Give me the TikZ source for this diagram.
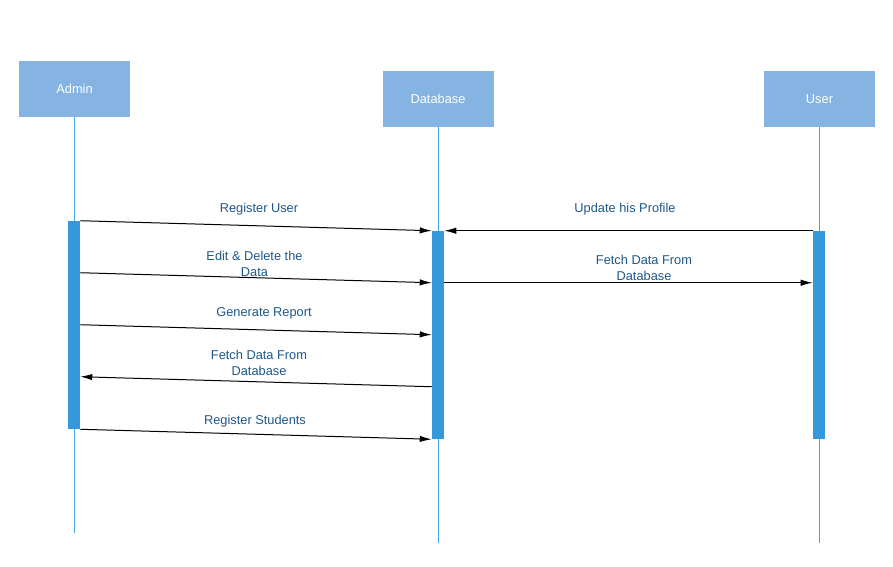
\documentclass[tikz,border=0pt]{standalone}
\usepackage{fontspec}
\setmainfont{Liberation Sans}
\usetikzlibrary{arrows.meta,calc}
\definecolor{headblue}{RGB}{133,179,226}
\definecolor{barblue}{RGB}{52,152,219}
\definecolor{lifeblue}{RGB}{70,160,225}
\definecolor{labelblue}{RGB}{30,88,138}
\begin{document}
\begin{tikzpicture}[font=\fontsize{9.6}{12}\selectfont,>={Latex[length=9pt,width=4.8pt]},x=0.75pt,y=-0.75pt]
    \tikzset{
        head/.style={
            fill=headblue,
            text=white,
            minimum width=83.25pt,
            minimum height=42pt,
            inner sep=0pt
        },
        bar/.style={
            fill=barblue,
            minimum width=9pt,
            minimum height=156pt,
            inner sep=0pt
        },
        life/.style={draw=lifeblue,line width=0.75pt},
        msg/.style={->,line width=0.75pt},
        msglabel/.style={text=labelblue,align=center,inner sep=1pt}
    }

    \fill[white] (0,0) rectangle (893,567);
    \useasboundingbox (0,0) rectangle (893,567);

    % lifeline heads
    \node[head] (admin) at (74.5,89) {Admin};
    \node[head] (db) at (438,99) {Database};
    \node[head] (user) at (819.5,99) {User};

    \coordinate (adminend) at (74.5,533);
    \coordinate (dbend) at (438,543);
    \coordinate (userend) at (819.5,543);
    \draw[life] (admin.south) -- (adminend);
    \draw[life] (db.south) -- (dbend);
    \draw[life] (user.south) -- (userend);

    % activation bars
    \node[bar] (adminbar) at (74,325) {};
    \node[bar] (dbbar) at (438,335) {};
    \node[bar] (userbar) at (819,335) {};

    % messages
    \draw[msg] (adminbar.north east) -- (dbbar.north west);
    \draw[msg] ($(adminbar.north east)+(0,52)$) -- ($(dbbar.north west)+(0,52)$);
    \draw[msg] ($(adminbar.north east)+(0,104)$) -- ($(dbbar.north west)+(0,104)$);
    \draw[msg] ($(dbbar.north west)+(0,156)$) -- ($(adminbar.north east)+(0,156)$);
    \draw[msg] (adminbar.south east) -- (dbbar.south west);
    \draw[msg] (userbar.north west) -- (dbbar.north east);
    \draw[msg] ($(dbbar.north east)+(0,52)$) -- ($(userbar.north west)+(0,52)$);

    \node[msglabel] (reguser) at (259,209.5) {Register User};
    \node[msglabel] (edit) at (254.5,264) {Edit \& Delete the\\Data};
    \node[msglabel] (report) at (264,313.5) {Generate Report};
    \node[msglabel] (fetchadmin) at (259,363) {Fetch Data From\\Database};
    \node[msglabel] (regstud) at (255,421.5) {Register Students};
    \node[msglabel] (update) at (625,209.5) {Update his Profile};
    \node[msglabel] (fetchuser) at (644,268) {Fetch Data From\\Database};
\end{tikzpicture}
\end{document}
